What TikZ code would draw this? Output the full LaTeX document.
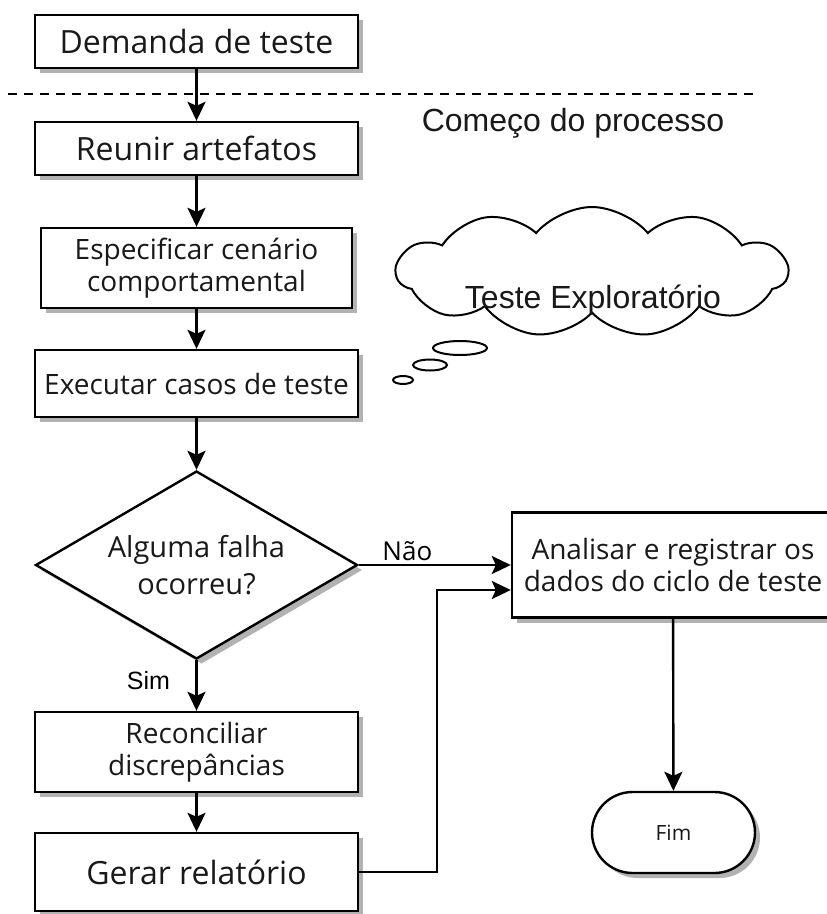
\documentclass[tikz,border=0pt]{standalone}
\usepackage{fontspec}
\setmainfont{Open Sans}
\newfontfamily\arialfont{Liberation Sans}
\usetikzlibrary{arrows.meta,shapes.geometric,shapes.symbols,shapes.misc,shadows}

\begin{document}
\begin{tikzpicture}[x=1pt,y=-1pt,
  box/.style={draw,fill=white,line width=2.4pt,inner sep=0pt,align=center,text=black!90,
    drop shadow={shadow xshift=5pt,shadow yshift=-5pt,fill=black!60,opacity=0.5}},
  arr/.style={line width=2.4pt,-{Stealth[length=19pt,width=18pt,inset=4pt]}},
  big/.style={font=\fontsize{32}{36}\selectfont},
  mid/.style={font=\fontsize{28}{32}\selectfont},
  note/.style={font=\arialfont\fontsize{32}{36}\selectfont,text=black!90}]
  \useasboundingbox (0,0) rectangle (827,914);
  \draw[line width=2.4pt,dash pattern=on 9pt off 7pt] (8,94) -- (758,94);
  \node[note] (inicio) at (573,123) {Começo do processo};
  \node[box,big,minimum width=323pt,minimum height=53pt] (dem) at (196.5,41.5) {Demanda de teste};
  \node[box,big,minimum width=323pt,minimum height=53pt] (reun) at (196.5,148.5) {Reunir artefatos};
  \node[box,mid,minimum width=311pt,minimum height=80pt] (espec) at (196.5,268) {Especificar cenário\\comportamental};
  \node[box,mid,minimum width=323pt,minimum height=67pt] (exec) at (196.5,383.5) {Executar casos de teste};
  \node[box,diamond,aspect=1.71,minimum width=322pt,minimum height=188pt,font=\fontsize{29}{37}\selectfont] (dec) at (196.5,565) {Alguma falha\\ocorreu?};
  \node[box,mid,minimum width=323pt,minimum height=80pt] (reco) at (196.5,752) {Reconciliar\\discrepâncias};
  \node[box,big,minimum width=323pt,minimum height=78pt] (gerar) at (196.5,872) {Gerar relatório};
  \node[box,mid,minimum width=322pt,minimum height=105pt] (anal) at (673,565) {Analisar e registrar os\\dados do ciclo de teste};
  \node[box,rounded rectangle,minimum width=163pt,minimum height=81pt,font=\fontsize{21}{24}\selectfont] (fim) at (673.5,832.5) {Fim};
  \node[cloud,draw,cloud puffs=11,cloud puff arc=100,aspect=3,minimum width=391pt,minimum height=130pt,line width=2pt] (nuvem) at (592,272) {};
  \node[note] (explo) at (593,300) {Teste Exploratório};
  \draw[line width=2pt] (460,348) ellipse [x radius=27pt,y radius=7pt];
  \draw[line width=2pt] (430,365) ellipse [x radius=17pt,y radius=5.5pt];
  \draw[line width=2pt] (403,380) ellipse [x radius=10pt,y radius=4pt];
  \draw[arr] (dem) -- (reun);
  \draw[arr] (reun) -- (espec);
  \draw[arr] (espec) -- (exec);
  \draw[arr] (exec) -- (dec);
  \draw[arr] (dec.east) -- node[above,pos=0.32,font=\fontsize{26}{30}\selectfont] {Não} (anal.west);
  \draw[arr] (dec.south) -- node[left=22pt,pos=0.41,font=\arialfont\fontsize{25}{30}\selectfont] {Sim} (reco.north);
  \draw[arr] (reco) -- (gerar);
  \draw[arr] (gerar.east) -| ([xshift=-74pt,yshift=-25pt]anal.west) -- ([yshift=-25pt]anal.west);
  \draw[arr] (anal) -- (fim);
\end{tikzpicture}
\end{document}
